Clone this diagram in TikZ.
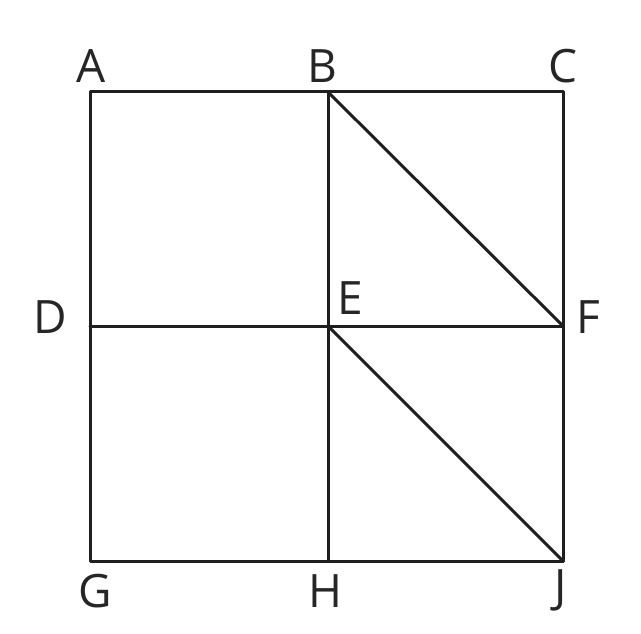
\documentclass[tikz,border=0pt]{standalone}
\usepackage{fontspec}
\setmainfont{Open Sans}
\begin{document}
\begin{tikzpicture}[x=1pt,y=-1pt,
  lbl/.style={inner sep=0pt,font=\fontsize{46}{46}\selectfont,text=black!85},
  edge/.style={line width=3pt,draw=black!88,line cap=round,line join=round}]
\useasboundingbox[fill=white] (0,0) rectangle (641,634);
\coordinate (pA) at (90,92);
\coordinate (pB) at (328,92);
\coordinate (pC) at (563,92);
\coordinate (pD) at (90,326);
\coordinate (pE) at (328,326);
\coordinate (pF) at (563,326);
\coordinate (pG) at (90,561);
\coordinate (pH) at (328,561);
\coordinate (pJ) at (563,561);
\draw[edge] (pA) -- (pC) -- (pJ) -- (pG) -- cycle;
\draw[edge] (pB) -- (pH);
\draw[edge] (pD) -- (pF);
\draw[edge] (pB) -- (pF);
\draw[edge] (pE) -- (pJ);
\node[lbl] (A) at (91,66) {A};
\node[lbl] (B) at (322,66) {B};
\node[lbl] (C) at (563,66) {C};
\node[lbl] (D) at (50,317) {D};
\node[lbl] (E) at (350,298) {E};
\node[lbl] (F) at (588,317) {F};
\node[lbl] (G) at (95,591) {G};
\node[lbl] (H) at (325,591) {H};
\node[lbl] (J) at (561,590) {J};
\end{tikzpicture}
\end{document}
